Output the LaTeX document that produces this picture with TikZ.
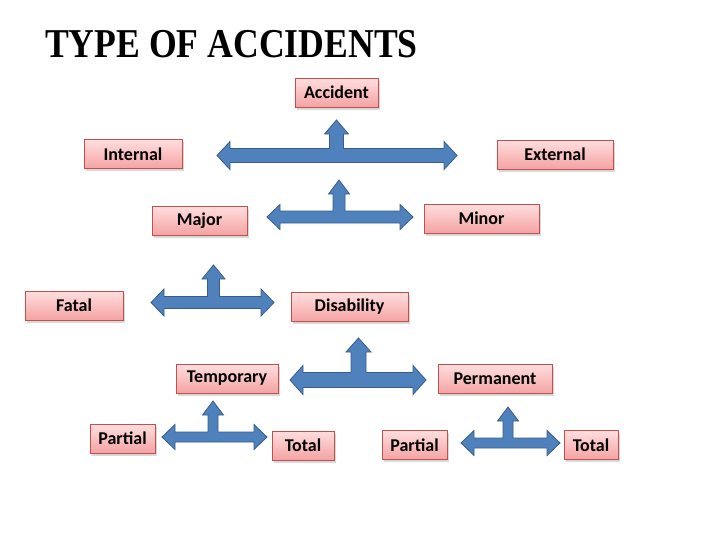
\documentclass[tikz,border=0pt]{standalone}
\usepackage{fontspec}
\setmainfont{Carlito}
\newfontfamily\titlefont{Liberation Serif}
\usetikzlibrary{shadows,calc}
\definecolor{boxborder}{HTML}{C0504D}
\definecolor{boxtop}{HTML}{FFDEDE}
\definecolor{boxbot}{HTML}{F4A3A3}
\definecolor{arrowfill}{HTML}{4F81BD}
\definecolor{arrowline}{HTML}{385D8A}
\tikzset{
  box/.style={draw=boxborder, line width=0.6pt, top color=boxtop, bottom color=boxbot,
    drop shadow={shadow xshift=1.5pt, shadow yshift=-2.5pt, opacity=0.3},
    font=\fontsize{18}{20}\selectfont\bfseries, inner sep=0pt, minimum height=29pt, text=black},
  tarrowstyle/.style={fill=arrowfill, draw=arrowline, line width=0.8pt, line join=miter}
}
% #1 xL, #2 xR, #3 yc, #4 xs, #5 yt, #6 shaft half, #7 head half
\newcommand{\tarrow}[7]{%
  \draw[tarrowstyle] (#1,#3) -- ({#1+13},{#3-#7}) -- ({#1+13},{#3-#6}) -- ({#4-#6},{#3-#6})
    -- ({#4-#6},{#5+14}) -- ({#4-#7+2},{#5+14}) -- (#4,#5) -- ({#4+#7-2},{#5+14})
    -- ({#4+#6},{#5+14}) -- ({#4+#6},{#3-#6}) -- ({#2-13},{#3-#6}) -- ({#2-13},{#3-#7})
    -- (#2,#3) -- ({#2-13},{#3+#7}) -- ({#2-13},{#3+#6}) -- ({#1+13},{#3+#6})
    -- ({#1+13},{#3+#7}) -- cycle;}
\begin{document}
\begin{tikzpicture}[x=1pt,y=-1pt]
\useasboundingbox[fill=white] (0,0) rectangle (728,546);
\node[anchor=base west, inner sep=0pt, xscale=0.87, font=\titlefont\fontsize{41}{44}\selectfont\bfseries] (title) at (45,57) {TYPE OF ACCIDENTS};

\node[box, minimum width=83pt] (accident) at (336.5,92.5) {Accident};
\node[box, minimum width=98pt] (internal) at (133,154) {Internal};
\node[box, minimum width=116pt] (external) at (555,154.5) {External};
\node[box, minimum width=95pt] (major) at (199.5,220.5) {Major};
\node[box, minimum width=115pt] (minor) at (481.5,218.5) {Minor};
\node[box, minimum width=98pt] (fatal) at (74,305.5) {Fatal};
\node[box, minimum width=117pt] (disability) at (349.5,307) {Disability};
\node[box, minimum width=102pt] (temporary) at (227,378.5) {Temporary};
\node[box, minimum width=114pt] (permanent) at (495,379) {Permanent};
\node[box, minimum width=65pt] (partialL) at (122.5,438.5) {Partial};
\node[box, minimum width=62pt] (totalL) at (303,445.5) {Total};
\node[box, minimum width=65pt] (partialR) at (414.5,445) {Partial};
\node[box, minimum width=54pt] (totalR) at (591,445) {Total};

\tarrow{217}{457}{155.5}{336.5}{120}{7}{14}
\tarrow{267}{413}{217}{339}{180}{6}{12.5}
\tarrow{151}{274}{302.5}{213.5}{265}{6}{13.5}
\tarrow{290}{426}{380}{358.5}{338}{7.5}{14.5}
\tarrow{162}{267}{437}{213}{401}{5}{12.5}
\tarrow{461}{560}{443}{508}{407}{5}{12.5}
\end{tikzpicture}
\end{document}
